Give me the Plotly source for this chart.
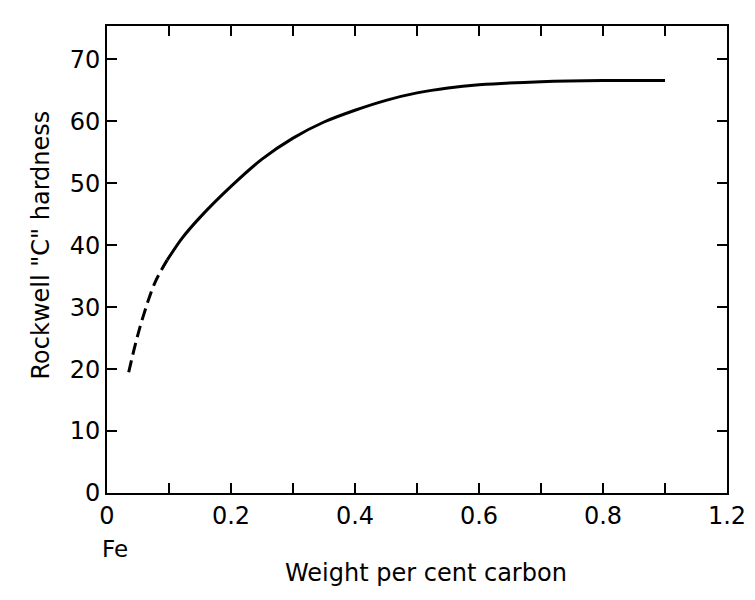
import plotly.graph_objects as go

# Data
dashed_x = [0.035, 0.047, 0.058, 0.077, 0.097]
dashed_y = [19.5, 24.5, 28.4, 33.9, 37.6]

solid_x = [0.097, 0.12, 0.15, 0.2, 0.25, 0.3, 0.35, 0.4, 0.45, 0.5, 0.55, 0.6, 0.7, 0.8, 0.9]
solid_y = [37.6, 41.0, 44.5, 49.5, 53.9, 57.3, 59.9, 61.8, 63.4, 64.6, 65.4, 65.9, 66.4, 66.6, 66.6]

x_tickvals = [0, 0.2, 0.4, 0.6, 0.8, 1.0]
x_ticktext = ["0", "0.2", "0.4", "0.6", "0.8", "1.2"]
y_tickvals = [0, 10, 20, 30, 40, 50, 60, 70]

x_title = "Weight per cent carbon"
y_title = 'Rockwell "C" hardness'
origin_note = "Fe"

FONT = "'DejaVu Sans', sans-serif"

fig = go.Figure()
fig.add_trace(go.Scatter(x=dashed_x, y=dashed_y, mode="lines",
                         line=dict(color="black", width=3, dash="12px,6px", shape="spline"),
                         showlegend=False, hoverinfo="skip"))
fig.add_trace(go.Scatter(x=solid_x, y=solid_y, mode="lines",
                         line=dict(color="black", width=3, shape="spline", smoothing=0.8),
                         showlegend=False, hoverinfo="skip"))

axis_common = dict(showgrid=False, zeroline=False, showline=True, linecolor="black",
                   linewidth=2, mirror="ticks", ticks="inside", ticklen=10, tickwidth=2,
                   tickcolor="black", automargin=False,
                   tickfont=dict(family=FONT, size=24, color="black"))

fig.update_xaxes(range=[0, 1.0], tickvals=x_tickvals, ticktext=x_ticktext,
                 minor=dict(dtick=0.1, ticks="inside", ticklen=10, tickwidth=2, tickcolor="black"),
                 **axis_common)
fig.update_yaxes(range=[0, 75.4], tickvals=y_tickvals, **axis_common)

fig.add_annotation(text=x_title, xref="paper", yref="paper", x=0.515, y=0, yshift=-80,
                   showarrow=False, yanchor="middle",
                   font=dict(family=FONT, size=24, color="black"))
fig.add_annotation(text=y_title, xref="paper", yref="paper", x=0, xshift=-66, y=0.53,
                   textangle=-90, showarrow=False, xanchor="center",
                   font=dict(family=FONT, size=24, color="black"))
fig.add_annotation(text=origin_note, xref="x", yref="paper", x=0.013, y=0, yshift=-56,
                   showarrow=False, yanchor="middle",
                   font=dict(family=FONT, size=23, color="black"))

# page body adds an 8px offset; figure sized so the plot area lands where the reference has it
fig.update_layout(width=747, height=592,
                  margin=dict(l=99, r=28, t=18, b=107),
                  paper_bgcolor="white", plot_bgcolor="white")

fig.write_html("out.html")
